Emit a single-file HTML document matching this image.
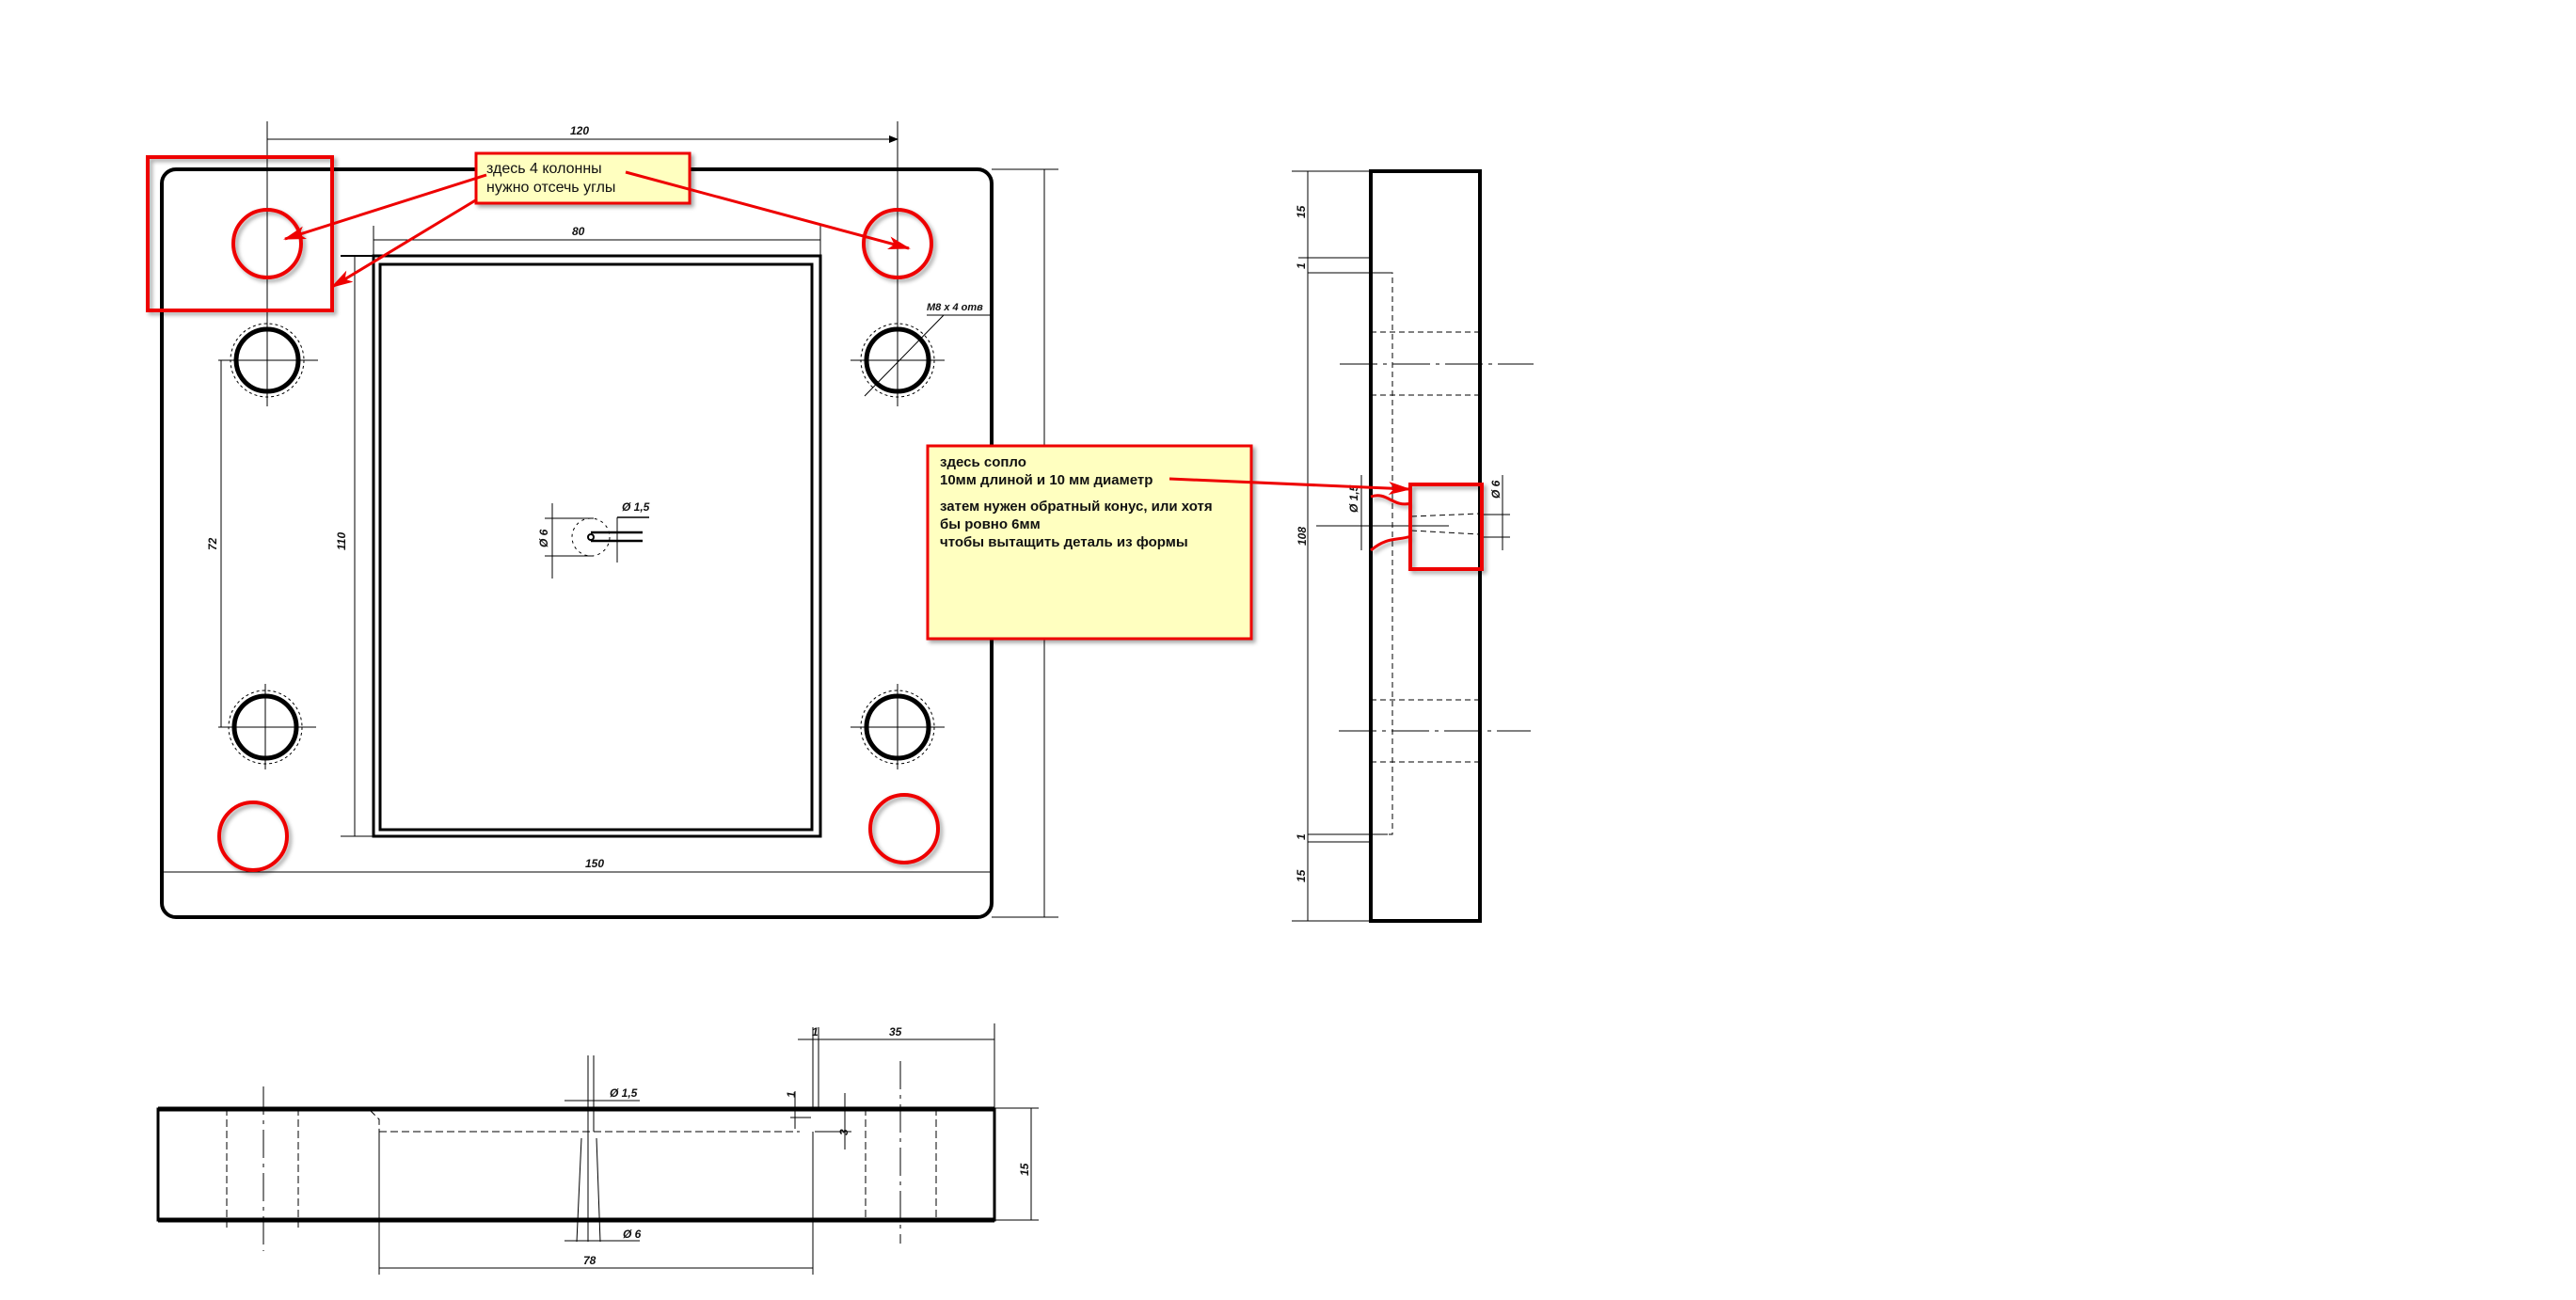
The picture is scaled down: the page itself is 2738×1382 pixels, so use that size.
<!DOCTYPE html>
<html><head><meta charset="utf-8"><style>
html,body{margin:0;padding:0;background:#fff}
svg{display:block}
.d{font-family:"Liberation Sans",sans-serif;font-style:italic;font-weight:bold;font-size:12px;fill:#111}
.c{font-family:"Liberation Sans","Noto Sans CJK SC",sans-serif;font-weight:bold;font-size:15px;fill:#111}
</style></head><body>
<svg width="2738" height="1382" viewBox="0 0 2738 1382" xmlns="http://www.w3.org/2000/svg">
<defs>
<marker id="ra" markerWidth="10" markerHeight="8" refX="9" refY="4" orient="auto" markerUnits="userSpaceOnUse"><path d="M0,0 L10,4 L0,8 z" fill="#000"/></marker>
<marker id="red" markerWidth="24" markerHeight="14" refX="22" refY="7" orient="auto" markerUnits="userSpaceOnUse"><path d="M0,0 L24,7 L0,14 L6,7 z" fill="#e00"/></marker>
<filter id="sh"><feDropShadow dx="3" dy="3" stdDeviation="2" flood-opacity="0.35"/></filter>
</defs>
<g stroke="#000" fill="none">
<!-- main plate -->
<rect x="172" y="180" width="882" height="795" rx="15" stroke-width="4"/>
<rect x="397" y="272" width="475" height="617" stroke-width="3"/>
<rect x="404" y="281" width="459" height="601" stroke-width="3"/>
<!-- column center lines -->
<line x1="284" y1="129" x2="284" y2="330" stroke-width="1"/>
<line x1="954" y1="129" x2="954" y2="330" stroke-width="1"/>
<!-- 120 -->
<line x1="284" y1="148" x2="954" y2="148" stroke-width="1" marker-start="url(#ra)" marker-end="url(#ra)" style="marker-start:none"/>
<!-- 80 -->
<line x1="397" y1="240" x2="397" y2="272" stroke-width="1"/><line x1="872" y1="240" x2="872" y2="272" stroke-width="1"/>
<line x1="397" y1="255" x2="872" y2="255" stroke-width="1"/>
<!-- 110 -->
<line x1="362" y1="272" x2="397" y2="272" stroke-width="2"/><line x1="362" y1="889" x2="397" y2="889" stroke-width="1"/>
<line x1="377" y1="272" x2="377" y2="889" stroke-width="1"/>
<!-- 72 -->
<line x1="235" y1="383" x2="235" y2="773" stroke-width="1"/>
<!-- 150 -->
<line x1="172" y1="927" x2="1054" y2="927" stroke-width="1"/>
<!-- right vertical -->
<line x1="1054" y1="180" x2="1125" y2="180" stroke-width="1"/><line x1="1054" y1="975" x2="1125" y2="975" stroke-width="1"/>
<line x1="1110" y1="180" x2="1110" y2="975" stroke-width="1"/>
<!-- bolt holes -->
<g stroke-width="5">
<circle cx="284" cy="383" r="33"/><circle cx="954" cy="383" r="33"/>
<circle cx="282" cy="773" r="33"/><circle cx="954" cy="773" r="33"/>
</g>
<g stroke-width="1" stroke-dasharray="3,3">
<circle cx="284" cy="383" r="39"/><circle cx="954" cy="383" r="39"/>
<circle cx="282" cy="773" r="39"/><circle cx="954" cy="773" r="39"/>
</g>
<g stroke-width="1">
<line x1="232" y1="383" x2="338" y2="383"/><line x1="284" y1="330" x2="284" y2="432"/>
<line x1="904" y1="383" x2="1004" y2="383"/><line x1="954" y1="330" x2="954" y2="432"/>
<line x1="232" y1="773" x2="336" y2="773"/><line x1="282" y1="727" x2="282" y2="818"/>
<line x1="904" y1="773" x2="1004" y2="773"/><line x1="954" y1="727" x2="954" y2="818"/>
<line x1="1003" y1="335" x2="919" y2="421"/><line x1="985" y1="335" x2="1052" y2="335"/>
</g>
<!-- nozzle main view -->
<circle cx="628" cy="571" r="20" stroke-width="1" stroke-dasharray="3,4"/>
<circle cx="628" cy="571" r="3" stroke-width="2"/>
<line x1="628" y1="566" x2="683" y2="566" stroke-width="2.5"/><line x1="628" y1="575" x2="683" y2="575" stroke-width="2.5"/>
<line x1="579" y1="551" x2="631" y2="551" stroke-width="1"/><line x1="579" y1="591" x2="631" y2="591" stroke-width="1"/>
<line x1="587" y1="535" x2="587" y2="615" stroke-width="1"/>
<line x1="656" y1="550" x2="656" y2="598" stroke-width="1"/><line x1="656" y1="550" x2="690" y2="550" stroke-width="1.5"/>

<!-- side view -->
<rect x="1457" y="182" width="116" height="797" stroke-width="4"/>
<g stroke-width="1">
<line x1="1373" y1="182" x2="1457" y2="182"/><line x1="1373" y1="979" x2="1457" y2="979"/>
<line x1="1390" y1="182" x2="1390" y2="979"/>
<line x1="1390" y1="274" x2="1459" y2="274"/><line x1="1390" y1="290" x2="1475" y2="290"/>
<line x1="1390" y1="887" x2="1475" y2="887"/><line x1="1390" y1="895" x2="1459" y2="895"/>
<line x1="1380" y1="274" x2="1400" y2="274"/>
</g>
<g stroke-width="1" stroke-dasharray="6,4">
<path d="M1475,290 H1480 V887 H1475"/>
<line x1="1457" y1="353" x2="1573" y2="353"/><line x1="1457" y1="420" x2="1573" y2="420"/>
<line x1="1457" y1="744" x2="1573" y2="744"/><line x1="1457" y1="810" x2="1573" y2="810"/>
<line x1="1500" y1="549" x2="1573" y2="546"/><line x1="1500" y1="564" x2="1573" y2="568"/>
</g>
<g stroke-width="1" stroke-dasharray="40,6,4,6">
<line x1="1424" y1="387" x2="1630" y2="387"/><line x1="1423" y1="777" x2="1627" y2="777"/>
</g>
<line x1="1399" y1="559" x2="1540" y2="559" stroke-width="1"/>
<line x1="1447" y1="505" x2="1447" y2="585" stroke-width="1"/>
<line x1="1573" y1="547" x2="1605" y2="547" stroke-width="1"/><line x1="1573" y1="571" x2="1605" y2="571" stroke-width="1"/>
<line x1="1597" y1="505" x2="1597" y2="585" stroke-width="1"/>

<!-- bottom view -->
<rect x="168" y="1179" width="889" height="118" stroke-width="3"/>
<line x1="168" y1="1179" x2="1057" y2="1179" stroke-width="5"/><line x1="168" y1="1297" x2="1057" y2="1297" stroke-width="5"/>
<g stroke-width="1" stroke-dasharray="8,4">
<line x1="241" y1="1178" x2="241" y2="1305"/><line x1="317" y1="1178" x2="317" y2="1305"/>
<line x1="920" y1="1178" x2="920" y2="1297"/><line x1="995" y1="1178" x2="995" y2="1297"/>
<line x1="403" y1="1203" x2="850" y2="1203"/>
<path d="M393,1180 L403,1190 V1203"/>
</g>
<g stroke-width="1" stroke-dasharray="30,6,4,6">
<line x1="280" y1="1155" x2="280" y2="1330"/><line x1="957" y1="1128" x2="957" y2="1322"/>
</g>
<g stroke-width="1">
<line x1="403" y1="1203" x2="403" y2="1355"/><line x1="864" y1="1203" x2="864" y2="1355"/>
<line x1="403" y1="1348" x2="864" y2="1348"/>
<line x1="625" y1="1122" x2="625" y2="1320"/><line x1="631" y1="1122" x2="631" y2="1203"/>
<line x1="618" y1="1210" x2="613" y2="1320"/><line x1="634" y1="1210" x2="638" y2="1320"/>
<line x1="600" y1="1170" x2="680" y2="1170"/><line x1="600" y1="1319" x2="680" y2="1319"/>
<line x1="864" y1="1092" x2="864" y2="1180"/><line x1="870" y1="1092" x2="870" y2="1180"/>
<line x1="1057" y1="1088" x2="1057" y2="1179"/>
<line x1="848" y1="1105" x2="1057" y2="1105"/>
<line x1="1057" y1="1178" x2="1104" y2="1178"/><line x1="1057" y1="1297" x2="1104" y2="1297"/>
<line x1="1096" y1="1178" x2="1096" y2="1297"/>
<line x1="840" y1="1188" x2="862" y2="1188"/><line x1="866" y1="1203" x2="905" y2="1203"/>
<line x1="898" y1="1162" x2="898" y2="1222"/><line x1="845" y1="1160" x2="845" y2="1200"/>
</g>
</g>

<!-- dimension texts -->
<text class="d" x="606" y="143">120</text>
<text class="d" x="608" y="250">80</text>
<text class="d" x="622" y="922">150</text>
<text class="d" transform="translate(367,585) rotate(-90)">110</text>
<text class="d" transform="translate(230,585) rotate(-90)">72</text>
<text class="d" x="985" y="330" style="font-size:11px">M8 x 4 отв</text>
<text class="d" x="661" y="543">Ø 1,5</text>
<text class="d" transform="translate(582,582) rotate(-90)">Ø 6</text>
<text class="d" transform="translate(1387,232) rotate(-90)">15</text>
<text class="d" transform="translate(1387,286) rotate(-90)">1</text>
<text class="d" transform="translate(1388,580) rotate(-90)">108</text>
<text class="d" transform="translate(1387,893) rotate(-90)">1</text>
<text class="d" transform="translate(1387,938) rotate(-90)">15</text>
<text class="d" transform="translate(1443,545) rotate(-90)">Ø 1,5</text>
<text class="d" transform="translate(1594,530) rotate(-90)">Ø 6</text>
<text class="d" x="648" y="1166">Ø 1,5</text>
<text class="d" x="662" y="1316">Ø 6</text>
<text class="d" x="620" y="1344">78</text>
<text class="d" x="945" y="1101">35</text>
<text class="d" x="863" y="1101">1</text>
<text class="d" transform="translate(845,1167) rotate(-90)">1</text>
<text class="d" transform="translate(901,1207) rotate(-90)">3</text>
<text class="d" transform="translate(1093,1250) rotate(-90)">15</text>

<!-- red annotations -->
<g stroke="#e00" fill="none" stroke-width="4" filter="url(#sh)">
<rect x="157" y="167" width="196" height="163"/>
<ellipse cx="284" cy="259" rx="36" ry="36"/>
<ellipse cx="954" cy="259" rx="36" ry="36"/>
<ellipse cx="269" cy="889" rx="36" ry="36"/>
<ellipse cx="961" cy="881" rx="36" ry="36"/>
<rect x="1499" y="515" width="76" height="90"/>
<path d="M1457,528 C1475,522 1480,540 1500,535" stroke-width="3"/>
<path d="M1457,585 C1475,570 1485,575 1500,570" stroke-width="3"/>
</g>
<g filter="url(#sh)">
<rect x="506" y="163" width="227" height="53" fill="#ffffc0" stroke="#e00" stroke-width="3"/>
<rect x="986" y="474" width="344" height="205" fill="#ffffc0" stroke="#e00" stroke-width="3"/>
</g>
<g stroke="#e00" stroke-width="3" fill="none">
<line x1="517" y1="186" x2="303" y2="254" marker-end="url(#red)"/>
<line x1="507" y1="212" x2="353" y2="305" marker-end="url(#red)"/>
<line x1="665" y1="183" x2="966" y2="264" marker-end="url(#red)"/>
<line x1="1243" y1="509" x2="1498" y2="520" marker-end="url(#red)"/>
</g>
<text class="c" x="517" y="184" style="font-weight:normal;font-size:16px">здесь 4 колонны</text>
<text class="c" x="517" y="204" style="font-weight:normal;font-size:16px">нужно отсечь углы</text>
<text class="c" x="999" y="496">здесь сопло</text>
<text class="c" x="999" y="515">10мм длиной и 10 мм диаметр</text>
<text class="c" x="999" y="543">затем нужен обратный конус, или хотя</text>
<text class="c" x="999" y="562">бы ровно 6мм</text>
<text class="c" x="999" y="581">чтобы вытащить деталь из формы</text>
</svg>
</body></html>
